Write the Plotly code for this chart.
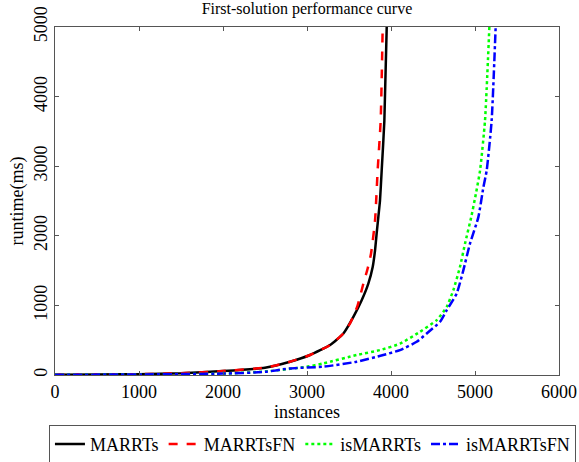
import plotly.graph_objects as go

title = "First-solution performance curve"
x_label = "instances"
y_label = "runtime(ms)"

marrts_x = [0, 500, 1000, 1500, 2000, 2500, 2798, 3036, 3274, 3433, 3552, 3651, 3730, 3782, 3810, 3829, 3849, 3869, 3889, 3921, 3949]
marrts_y = [5, 8, 12, 25, 57, 105, 191, 287, 430, 597, 836, 1074, 1313, 1552, 1791, 2030, 2268, 2507, 2937, 3653, 5000]

marrtsfn_x = [0, 500, 1000, 1500, 2000, 2500, 2798, 3036, 3274, 3433, 3512, 3600, 3671, 3720, 3762, 3810, 3841, 3877, 3901]
marrtsfn_y = [5, 8, 12, 25, 57, 105, 191, 287, 430, 597, 740, 990, 1313, 1520, 1743, 2220, 2937, 3653, 5000]

ismarrts_x = [0, 1000, 2000, 2500, 2996, 3194, 3591, 3869, 4107, 4345, 4544, 4663, 4742, 4821, 4881, 4955, 5010, 5060, 5119, 5171]
ismarrts_y = [3, 8, 20, 50, 119, 167, 287, 358, 450, 621, 788, 979, 1218, 1552, 1887, 2268, 2600, 2937, 3653, 5000]

ismarrtsfn_x = [0, 1000, 2000, 2500, 2798, 3194, 3591, 3908, 4107, 4306, 4425, 4583, 4663, 4782, 4861, 4940, 5040, 5100, 5139, 5198, 5246]
ismarrtsfn_y = [3, 8, 20, 45, 95, 119, 191, 287, 358, 477, 597, 764, 931, 1170, 1504, 1887, 2268, 2700, 2937, 3653, 5000]

x_ticks = [0, 1000, 2000, 3000, 4000, 5000, 6000]
y_ticks = [0, 1000, 2000, 3000, 4000, 5000]

font_family = "Liberation Serif"

fig = go.Figure()
fig.add_trace(go.Scatter(x=marrts_x, y=marrts_y, mode="lines", name="MARRTs",
                         line=dict(color="black", width=2.5, dash="solid", shape="spline", smoothing=0.5)))
fig.add_trace(go.Scatter(x=marrtsfn_x, y=marrtsfn_y, mode="lines", name="MARRTsFN",
                         line=dict(color="red", width=2.5, dash="dash", shape="spline", smoothing=0.5)))
fig.add_trace(go.Scatter(x=ismarrts_x, y=ismarrts_y, mode="lines", name="isMARRTs",
                         line=dict(color="#00ff00", width=2.5, dash="dot", shape="spline", smoothing=0.5)))
fig.add_trace(go.Scatter(x=ismarrtsfn_x, y=ismarrtsfn_y, mode="lines", name="isMARRTsFN",
                         line=dict(color="blue", width=2.5, dash="dashdot", shape="spline", smoothing=0.5)))

axis_common = dict(showgrid=False, zeroline=False, showline=True, linecolor="#555555",
                   linewidth=1, mirror="ticks", ticks="inside", ticklen=4, automargin=False,
                   tickcolor="#555555", tickfont=dict(size=18, color="black", family=font_family))

fig.update_layout(
    width=579, height=462,
    margin=dict(l=55, r=20, t=27, b=87, autoexpand=False),
    paper_bgcolor="white", plot_bgcolor="white",
    font=dict(family=font_family, color="black"),
    title=dict(text=title, x=0.5, xanchor="center", xref="paper", y=0.995, yanchor="top",
               font=dict(size=16, family=font_family, color="black")),
    xaxis=dict(range=[0, 6000], tickvals=x_ticks, title=dict(text=x_label, standoff=4,
               font=dict(size=18, family=font_family)), **axis_common),
    yaxis=dict(range=[0, 5000], tickvals=y_ticks, tickangle=-90, title=dict(text=y_label, standoff=2,
               font=dict(size=18, family=font_family)), **axis_common),
    legend=dict(orientation="h", x=-0.012, xanchor="left", y=-0.143, yanchor="top",
                bordercolor="#555555", borderwidth=1, bgcolor="white",
                font=dict(size=18, family=font_family, color="black"),
                itemwidth=30, tracegroupgap=0),
    showlegend=True,
)

fig.write_html("out.html", config={"displayModeBar": False},
               post_script="document.body.style.margin='0';document.body.style.overflow='hidden';")
